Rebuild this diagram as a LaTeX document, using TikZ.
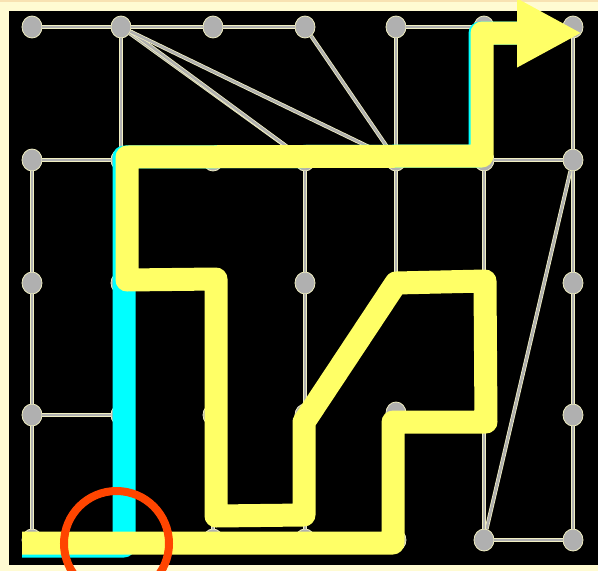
\documentclass[tikz,border=0pt]{standalone}
\usepackage{tikz}
\usetikzlibrary{shapes.geometric,arrows.meta}
\definecolor{cream}{HTML}{FFFBD2}
\definecolor{creamedge}{HTML}{F0EEC2}
\definecolor{topline}{HTML}{F8E2B2}
\definecolor{knot}{HTML}{B0B0B0}
\definecolor{route}{HTML}{FFFF66}
\definecolor{direct}{HTML}{00FFFF}
\definecolor{hitred}{HTML}{FF4500}

\begin{document}
\begin{tikzpicture}[x=1pt,y=-1pt,
  dot/.style={ellipse,draw=creamedge,fill=knot,line width=0.8pt,minimum width=20pt,minimum height=22pt,inner sep=0pt},
  wire/.style={draw=creamedge,double=knot,double distance=2.4pt,line width=0.8pt},
  yroute/.style={route,line width=23pt,line join=round},
  croute/.style={direct,line width=23pt,line join=round},
  ring/.style={hitred,line width=8pt}]
\useasboundingbox (0,0) rectangle (598,571);
\fill[cream] (0,0) rectangle (598,571);
\fill[topline] (0,0) rectangle (598,2);
\fill[black] (9,11) rectangle (598,565);
% grid of stops
\node[dot] (a1) at (32,27) {}; \node[dot] (a2) at (121,27) {}; \node[dot] (a3) at (213,27) {}; \node[dot] (a4) at (305,27) {}; \node[dot] (a5) at (396,27) {}; \node[dot] (a6) at (484,27) {}; \node[dot] (a7) at (573,27) {};
\node[dot] (b1) at (32,160) {}; \node[dot] (b2) at (121,160) {}; \node[dot] (b3) at (213,160) {}; \node[dot] (b4) at (305,160) {}; \node[dot] (b5) at (396,160) {}; \node[dot] (b6) at (484,160) {}; \node[dot] (b7) at (573,160) {};
\node[dot] (c1) at (32,283) {}; \node[dot] (c2) at (121,283) {}; \node[dot] (c3) at (213,283) {}; \node[dot] (c4) at (305,283) {}; \node[dot] (c5) at (396,283) {}; \node[dot] (c6) at (484,283) {}; \node[dot] (c7) at (573,283) {};
\node[dot] (d1) at (32,415) {}; \node[dot] (d2) at (121,415) {}; \node[dot] (d3) at (213,415) {}; \node[dot] (d4) at (305,415) {}; \node[dot] (d5) at (396,413) {}; \node[dot] (d6) at (484,415) {}; \node[dot] (d7) at (573,415) {};
\node[dot] (e1) at (32,540) {}; \node[dot] (e2) at (121,540) {}; \node[dot] (e3) at (213,540) {}; \node[dot] (e4) at (305,540) {}; \node[dot] (e5) at (396,540) {}; \node[dot] (e6) at (484,540) {}; \node[dot] (e7) at (573,540) {};
% links
\draw[wire] (a1)--(a2); \draw[wire] (a2)--(a3); \draw[wire] (a3)--(a4); \draw[wire] (a5)--(a6); \draw[wire] (a6)--(a7);
\draw[wire] (a2)--(b2); \draw[wire] (a2)--(b4); \draw[wire] (a2.-25)--(b4); \draw[wire] (a2)--(b5);
\draw[wire] (a4)--(b5); \draw[wire] (a5)--(b5); \draw[wire] (a7)--(b7);
\draw[wire] (b1)--(b2); \draw[wire] (b6)--(b7);
\draw[wire] (b1)--(c1); \draw[wire] (c1)--(d1); \draw[wire] (d1)--(e1); \draw[wire] (d1)--(d2);
\draw[wire] (b4)--(c4); \draw[wire] (c4)--(d4); \draw[wire] (d4)--(e4); \draw[wire] (d3)--(e3);
\draw[wire] (b5)--(c5); \draw[wire] (b6)--(c6);
\draw[wire] (b7)--(c7); \draw[wire] (c7)--(d7); \draw[wire] (d7)--(e7); \draw[wire] (b7)--(e6);
\draw[wire] (d5)--(d6); \draw[wire] (d6)--(e6); \draw[wire] (e6)--(e7);
% routes
\draw[croute] (22,546)--(124,546)--(124,157)--(480,156)--(480,33)--(520,33);
\draw[yroute,-{Triangle[length=65pt,width=64pt]}] (22,543)--(393,543)--(393,422)--(486,422)--(485,281)--(396,283)--(304,422)--(304,515)--(216,516)--(216,279)--(127,280)--(127,157)--(482,156)--(482,33)--(582,33);
\draw[ring] (116.5,543.5) circle[radius=52.5pt];
\end{tikzpicture}
\end{document}
